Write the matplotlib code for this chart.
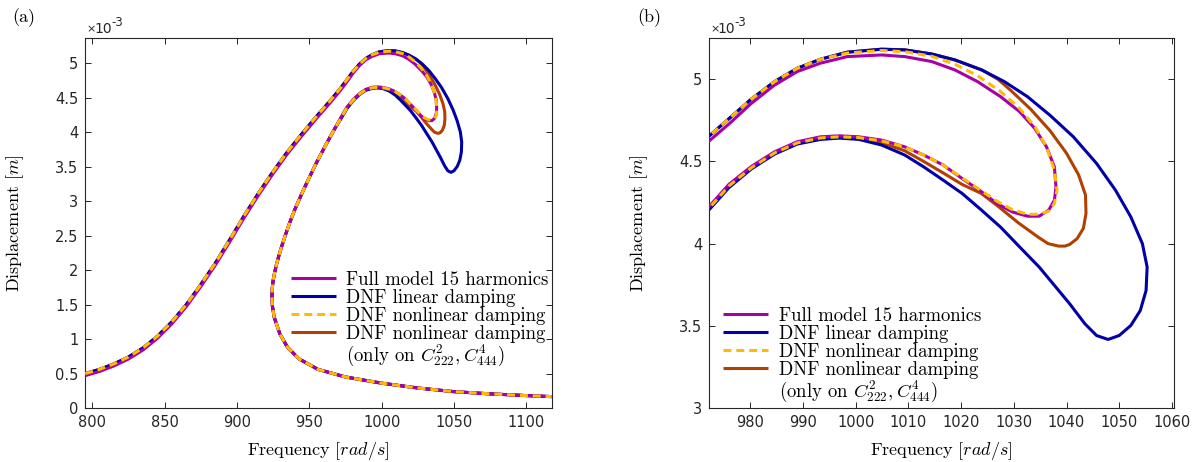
import matplotlib
matplotlib.use('Agg')
import matplotlib.pyplot as plt
import matplotlib.font_manager as fm
from matplotlib.lines import Line2D
from matplotlib.ticker import FormatStrFormatter

plt.rcParams['font.family'] = 'DejaVu Sans'
plt.rcParams['mathtext.fontset'] = 'cm'

# low-frequency rising branch (common to every curve), y in 1e-3 m
rise_x = [795.2, 805, 815, 825, 835, 845, 855, 865, 875, 885, 895, 905, 915, 925, 935, 945, 955, 965]
rise_full_y = [0.47, 0.53, 0.61, 0.71, 0.84, 1.01, 1.22, 1.47, 1.76, 2.07, 2.41, 2.76, 3.09, 3.40, 3.69, 3.95, 4.20, 4.44]
rise_dnf_y = [0.50, 0.56, 0.64, 0.74, 0.87, 1.04, 1.25, 1.50, 1.79, 2.10, 2.44, 2.79, 3.12, 3.43, 3.72, 3.98, 4.23, 4.47]

# return branch below the resonance, down to the tail
ret_x = [967, 961, 955, 949, 944, 940, 936.5, 933.5, 931, 929, 927.3, 926, 925, 924.4, 924.2, 924.5, 925.7,
         929.6, 934.9, 942.9, 956, 975, 1000, 1025, 1050, 1075, 1100, 1117.5]
ret_y = [4.03, 3.80, 3.56, 3.30, 3.07, 2.88, 2.69, 2.51, 2.35, 2.21, 2.08, 1.96, 1.85, 1.74, 1.62, 1.48, 1.318,
         1.076, 0.882, 0.712, 0.56, 0.45, 0.36, 0.29, 0.237, 0.205, 0.18, 0.165]

# loops around the resonance peak
full_loop_x = [972, 976, 980.2, 984.6, 988.9, 993.3, 998.4, 1004.9, 1009.3, 1014.4, 1018.8, 1023.1, 1027.5, 1031.1,
               1034.0, 1036.2, 1037.7, 1038.0, 1037.7, 1036.6, 1034.8, 1032.6, 1029.7, 1026.8, 1023.9, 1020.2,
               1016.6, 1012.9, 1009.3, 1004.9, 1000.6, 996.9, 993.3, 988.9, 984.6, 980.2, 975.9, 972]
full_loop_y = [4.62, 4.73, 4.854, 4.965, 5.047, 5.098, 5.138, 5.148, 5.138, 5.108, 5.057, 4.986, 4.894, 4.803,
               4.70, 4.589, 4.467, 4.345, 4.264, 4.203, 4.167, 4.167, 4.193, 4.244, 4.315, 4.396,
               4.478, 4.539, 4.589, 4.63, 4.65, 4.656, 4.65, 4.62, 4.559, 4.47, 4.36, 4.22]

lin_loop_x = [972, 976, 980.2, 984.6, 988.9, 993.3, 998.4, 1004.9, 1009.3, 1014.4, 1018.8, 1023.9, 1028.2, 1032.6,
              1036.9, 1041.3, 1045.7, 1049.3, 1052.2, 1054.4, 1055.3, 1055.1, 1054.0, 1052.2, 1050.0, 1047.9,
              1045.7, 1043.5, 1040.6, 1037.7, 1034.8, 1031.1, 1027.5, 1023.9, 1020.2, 1016.6, 1012.9, 1009.3,
              1004.9, 1000.6, 996.9, 993.3, 988.9, 984.6, 980.2, 975.9, 972]
lin_loop_y = [4.65, 4.762, 4.88, 4.986, 5.067, 5.122, 5.165, 5.183, 5.179, 5.154, 5.118, 5.057, 4.986, 4.894,
              4.78, 4.65, 4.488, 4.325, 4.163, 4.0, 3.858, 3.715, 3.593, 3.502, 3.441, 3.417,
              3.441, 3.512, 3.634, 3.746, 3.858, 3.98, 4.10, 4.203, 4.305, 4.386, 4.467, 4.539,
              4.60, 4.634, 4.642, 4.634, 4.606, 4.545, 4.455, 4.34, 4.20]

nl_loop_x = [972, 976, 980.2, 984.6, 988.9, 993.3, 998.4, 1004.9, 1009.3, 1014.4, 1018.8, 1023.1, 1027.5, 1031.1,
             1034.0, 1036.2, 1037.7, 1038.2, 1037.7, 1036.6, 1034.8, 1032.6, 1029.7, 1026.8, 1023.9, 1020.2,
             1016.6, 1012.9, 1009.3, 1004.9, 1000.6, 996.9, 993.3, 988.9, 984.6, 980.2, 975.9, 972]
nl_loop_y = [4.65, 4.762, 4.88, 4.986, 5.067, 5.122, 5.16, 5.175, 5.168, 5.14, 5.092, 5.022, 4.925, 4.823,
             4.711, 4.589, 4.447, 4.325, 4.244, 4.197, 4.179, 4.179, 4.207, 4.258, 4.32, 4.40,
             4.478, 4.539, 4.589, 4.625, 4.645, 4.65, 4.643, 4.613, 4.552, 4.462, 4.35, 4.21]

nlc_loop_x = [972, 976, 980.2, 984.6, 988.9, 993.3, 998.4, 1004.9, 1009.3, 1014.4, 1018.8, 1023.9, 1027, 1029.5,
              1033.2, 1036.9, 1040.0, 1042.3, 1043.6, 1043.7, 1043.2, 1042.0, 1040.6, 1039.7, 1038.5, 1036.5,
              1034.6, 1030.8, 1027.1, 1023.8, 1020.2, 1016.6, 1012.9, 1009.3, 1004.9, 1000.6, 996.9, 993.3,
              988.9, 984.6, 980.2, 975.9, 972]
nlc_loop_y = [4.65, 4.762, 4.88, 4.986, 5.067, 5.122, 5.165, 5.183, 5.179, 5.154, 5.118, 5.057, 5.0, 4.93,
              4.818, 4.686, 4.55, 4.418, 4.296, 4.184, 4.093, 4.03, 3.995, 3.985, 3.985, 4.0,
              4.04, 4.128, 4.225, 4.306, 4.36, 4.43, 4.50, 4.565, 4.615, 4.64, 4.648, 4.64,
              4.612, 4.55, 4.458, 4.345, 4.21]

labels = ['Full model 15 harmonics', 'DNF linear damping', 'DNF nonlinear damping', 'DNF nonlinear damping']
extra_label = '(only on $C^2_{222}, C^4_{444}$)'
colors = ['#A800A8', '#0000A8', '#FFBB00', '#B24000']

series = [
    (rise_x + full_loop_x + ret_x, rise_full_y + full_loop_y + ret_y),
    (rise_x + lin_loop_x + ret_x, rise_dnf_y + lin_loop_y + ret_y),
    (rise_x + nl_loop_x + ret_x, rise_dnf_y + nl_loop_y + ret_y),
    (rise_x + nlc_loop_x + ret_x, rise_dnf_y + nlc_loop_y + ret_y),
]
zorders = [3, 2, 4, 1]
styles = ['-', '-', (0, (2.6, 1.6)), '-']

W, H = 1199, 462
fig = plt.figure(figsize=(W / 100, H / 100), dpi=100)
ax1 = fig.add_axes([85.3 / W, 1 - 408 / H, 466.4 / W, 370.3 / H])
ax2 = fig.add_axes([709.3 / W, 1 - 408 / H, 464.7 / W, 370.3 / H])

cm_font = fm.FontProperties(family='cmr10', size=13)
leg_font = fm.FontProperties(family='cmr10', size=13.5)

for ax in (ax1, ax2):
    handles = []
    for (x, y), c, ls, z, lab in zip(series, colors, styles, zorders, labels):
        h, = ax.plot(x, y, color=c, lw=2.2, ls=ls, zorder=z, label=lab, solid_capstyle='butt')
        handles.append(h)
    handles.append(Line2D([], [], color='none'))
    ax.tick_params(direction='in', top=True, right=True, length=4, width=0.7,
                   labelsize=10.5, colors='#262626', pad=5)
    for s in ax.spines.values():
        s.set_color('#262626')
        s.set_linewidth(0.8)
    ax.yaxis.set_major_formatter(FormatStrFormatter('%g'))
    ax.set_xlabel('Frequency $[rad/s]$', fontproperties=cm_font)
    ax.set_ylabel('Displacement $[m]$', fontproperties=cm_font)
    ax.xaxis.set_label_coords(0.5, -0.087)
    ax.yaxis.set_label_coords(-0.128, 0.5)
    ax.handles = handles

ax1.set_xlim(795.2, 1117.5)
ax1.set_ylim(0, 5.37)
ax1.set_xticks([800, 850, 900, 950, 1000, 1050, 1100])
ax1.set_yticks([0, 0.5, 1, 1.5, 2, 2.5, 3, 3.5, 4, 4.5, 5])

ax2.set_xlim(972.2, 1060.4)
ax2.set_ylim(3, 5.253)
ax2.set_xticks(range(980, 1061, 10))
ax2.set_yticks([3, 3.5, 4, 4.5, 5])

for ax, anchor in ((ax1, (0.44, 0.37)), (ax2, (0.030, 0.273))):
    ax.legend(ax.handles, labels + [extra_label], loc='upper left', bbox_to_anchor=anchor,
              frameon=False, prop=leg_font, handlelength=2.4, handletextpad=0.55,
              labelspacing=0.0, borderpad=0, borderaxespad=0)

# exponent labels and panel tags
for px in (86.7, 710):
    fig.text(px / W, 1 - 32 / H, '\u00d7', fontsize=8, color='#262626', va='baseline')
    fig.text((px + 7.5) / W, 1 - 33 / H, '10', fontsize=10, color='#262626', va='baseline')
    fig.text((px + 24.5) / W, 1 - 26 / H, '-3', fontsize=8.5, color='#262626', va='baseline')
fig.text(24 / W, 1 - 18 / H, '(a)', fontproperties=cm_font, ha='center', va='center')
fig.text(649 / W, 1 - 18 / H, '(b)', fontproperties=cm_font, ha='center', va='center')

fig.savefig('out.png', dpi=100)
